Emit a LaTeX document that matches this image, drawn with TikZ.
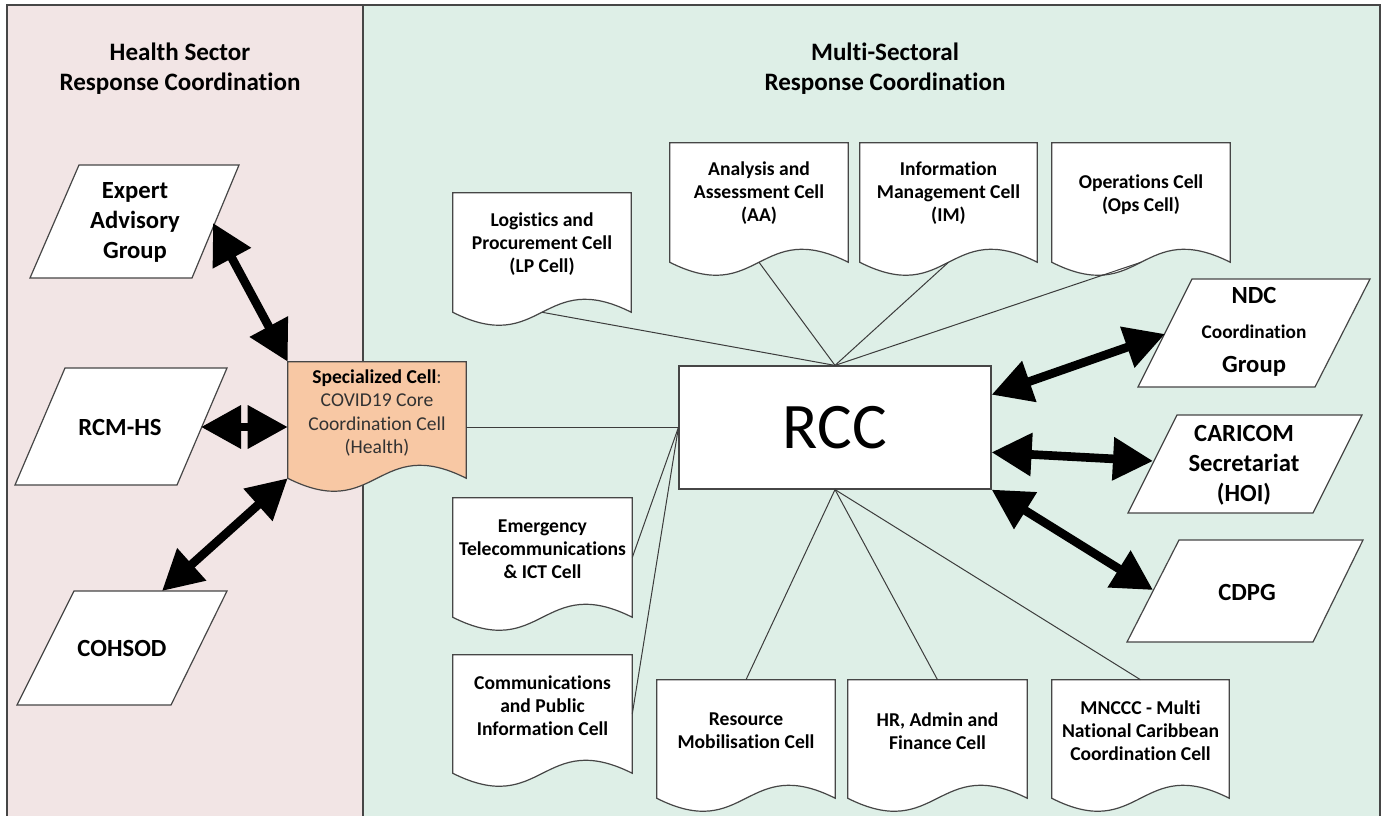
\documentclass[tikz,border=0pt]{standalone}
\usepackage{fontspec}
\setmainfont{Carlito}[Ligatures=NoCommon]
\usetikzlibrary{arrows.meta,calc}

\definecolor{pinkbg}{RGB}{242,229,229}
\definecolor{greenbg}{RGB}{222,239,231}
\definecolor{orangecell}{RGB}{248,200,164}
\definecolor{frameclr}{RGB}{70,70,70}
\definecolor{outline}{RGB}{70,70,70}
\definecolor{linkclr}{RGB}{60,60,60}
\definecolor{txtgray}{RGB}{50,50,50}

\newcommand{\docbox}[6]{%
  \node[cellbox, minimum width={(#4-#2)*0.75pt}, minimum height={(#5-#3)*0.75pt}] (#1) at ({(#2+#4)/2},{(#3+#5)/2}) {};
  \path[docfill, fill=#6] (#1.north west) -- (#1.north east) -- (#1.south east)
     .. controls ($(#1.south)+(0,-45)$) and ($(#1.south)+(0,45)$) .. (#1.south west) -- cycle;
}

\begin{document}
\begin{tikzpicture}[x=0.75pt,y=-0.75pt,
  panelframe/.style={draw=frameclr, line width=1.1pt},
  docfill/.style={draw=outline, line width=0.9pt},
  cellbox/.style={rectangle, draw=none, inner sep=0pt},
  celltext/.style={align=center, inner sep=0pt, text=black, font=\fontsize{14.7}{17.3}\selectfont\bfseries},
  bigtext/.style={align=center, inner sep=0pt, text=black, font=\fontsize{18.5}{22.5}\selectfont\bfseries},
  headtext/.style={align=center, inner sep=0pt, text=black, font=\fontsize{18.8}{22.5}\selectfont\bfseries},
  para/.style={draw=outline, line width=0.9pt, fill=white},
  link/.style={draw=linkclr, line width=0.75pt},
  twoway/.style={line width=6.5pt, black, {Triangle[length=30pt,width=31pt]}-{Triangle[length=30pt,width=31pt]}},
]
\useasboundingbox (0,0) rectangle (1383,816);
\fill[white] (0,0) rectangle (1383,816);

% panels
\path[fill=pinkbg] (7,5) rectangle (363,830);
\path[fill=greenbg] (363,5) rectangle (1380,830);
\draw[panelframe] (7,830) -- (7,5) -- (1380,5) -- (1380,830);
\draw[panelframe] (363,5) -- (363,830);

% headings
\node[headtext] (hhead) at (180,69) {Health Sector\\Response Coordination};
\node[headtext] (mhead) at (885,69) {Multi-Sectoral\\Response Coordination};

% parallelograms (left)
\path[para] (79,165) -- (239,165) -- (192,278) -- (30,278) -- cycle;
\node[bigtext] (exp) at (135,222) {Expert\\Advisory\\Group};
\coordinate (exp-r) at (213,223);

\path[para] (65,368) -- (227,368) -- (177,485) -- (15,485) -- cycle;
\node[bigtext] (rcm) at (120,427) {RCM-HS};
\coordinate (rcm-r) at (201,427);

\path[para] (74,591) -- (227,591) -- (171,705) -- (17,705) -- cycle;
\node[bigtext] (coh) at (122,648) {COHSOD};
\coordinate (coh-t) at (162,591);

% parallelograms (right)
\path[para] (1192,279) -- (1370,279) -- (1315,387) -- (1138,387) -- cycle;
\node[bigtext] (ndc) at (1254,332) {NDC\\[4pt]{\fontsize{14.5}{17}\selectfont Coordination}\\[3pt]Group};
\coordinate (ndc-l) at (1165,334);

\path[para] (1177,415) -- (1362,415) -- (1313,513) -- (1128,513) -- cycle;
\node[bigtext] (car) at (1244,465) {CARICOM\\Secretariat\\(HOI)};
\coordinate (car-l) at (1153,461);

\path[para] (1179,540) -- (1363,540) -- (1313,642) -- (1127,642) -- cycle;
\node[bigtext] (cdp) at (1247,592) {CDPG};
\coordinate (cdp-l) at (1153,590);

% document cells
\docbox{spec}{288}{362}{466}{478}{orangecell}
\node[align=center, inner sep=0pt, text=txtgray, font=\fontsize{14.7}{17.3}\selectfont] (spec-t) at ($(spec.center)+(0,-7)$)
  {{\color{black}\bfseries Specialized Cell}:\\COVID19 Core\\Coordination Cell\\(Health)};

\docbox{lp}{453}{193}{631}{312}{white}
\node[celltext] (lp-t) at ($(lp.center)+(0,-8)$) {Logistics and\\Procurement Cell\\(LP Cell)};
\docbox{aa}{670}{143}{848}{262}{white}
\node[celltext] (aa-t) at ($(aa.center)+(0,-9)$) {Analysis and\\Assessment Cell\\(AA)};
\docbox{im}{860}{143}{1037}{262}{white}
\node[celltext] (im-t) at ($(im.center)+(0,-9)$) {Information\\Management Cell\\(IM)};
\docbox{ops}{1052}{143}{1230}{262}{white}
\node[celltext] (ops-t) at ($(ops.center)+(0,-8)$) {Operations Cell\\(Ops Cell)};
\docbox{etc}{453}{498}{632}{617}{white}
\node[celltext] (etc-t) at ($(etc.center)+(0,-8)$) {Emergency\\Telecommunications\\\& ICT Cell};
\docbox{cpi}{453}{655}{632}{773}{white}
\node[celltext] (cpi-t) at ($(cpi.center)+(0,-8)$) {Communications\\and Public\\Information Cell};
\docbox{rmc}{657}{680}{835}{798}{white}
\node[celltext] (rmc-t) at ($(rmc.center)+(0,-8)$) {Resource\\Mobilisation Cell};
\docbox{hr}{848}{680}{1027}{798}{white}
\node[celltext] (hr-t) at ($(hr.center)+(0,-8)$) {HR, Admin and\\Finance Cell};
\docbox{mn}{1052}{680}{1229}{798}{white}
\node[celltext] (mn-t) at ($(mn.center)+(0,-8)$) {MNCCC - Multi\\National Caribbean\\Coordination Cell};

% RCC
\node[draw=outline, line width=0.9pt, fill=white, minimum width=234pt, minimum height=92.25pt, inner sep=0pt,
      font=\fontsize{48.75}{50}\selectfont] (rcc) at (835,427.5) {RCC};

% thin links
\draw[link] (lp.south) -- (rcc.north);
\draw[link] (aa.south) -- (rcc.north);
\draw[link] (im.south) -- (rcc.north);
\draw[link] (ops.south) -- (rcc.north);
\draw[link] (rcc.west) -- (rcc.west -| spec.east);
\draw[link] (rcc.west) -- (etc.east);
\draw[link] (rcc.west) -- (cpi.east);
\draw[link] (rcc.south) -- (rmc.north);
\draw[link] (rcc.south) -- (hr.north);
\draw[link] (rcc.south) -- (mn.north);

% thick two-way arrows
\draw[twoway] (exp-r) -- (spec.north west);
\draw[twoway] (rcm-r) -- (rcm-r -| spec.west);
\draw[twoway] (coh-t) -- (spec.south west);
\draw[twoway] ($(rcc.north east)!0.236!(rcc.south east)$) -- (ndc-l);
\draw[twoway] ($(rcc.north east)!0.7!(rcc.south east)$) -- (car-l);
\draw[twoway] (rcc.south east) -- (cdp-l);
\end{tikzpicture}
\end{document}
